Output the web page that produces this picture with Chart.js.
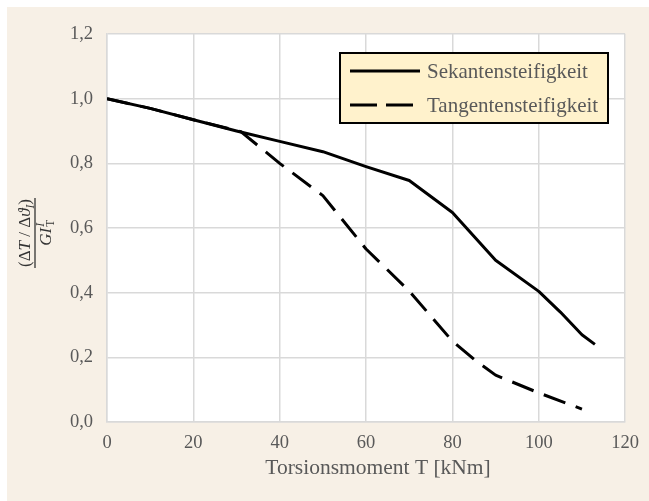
<!DOCTYPE html>
<html>
<head>
<meta charset="utf-8">
<script src="https://cdn.jsdelivr.net/npm/chart.js@4/dist/chart.umd.min.js"></script>
<style>
  html, body { margin: 0; padding: 0; background: #ffffff; }
  #wrap { width: 649px; height: 501px; position: relative; }
</style>
</head>
<body>
<div id="wrap"><canvas id="chart" width="649" height="501"></canvas></div>
<script>
// Torsion moment T [kNm] and relative stiffness, secant series
const sekanteT = [0, 10, 20, 30, 40, 50, 60, 70, 80, 90, 100, 105, 110, 113];
const sekanteK = [1.0, 0.97, 0.935, 0.9, 0.868, 0.836, 0.79, 0.747, 0.648, 0.5, 0.404, 0.34, 0.27, 0.24];

// Tangent series
const tangenteT = [0, 10, 20, 31, 40, 50, 60, 70, 80, 85, 90, 100, 110];
const tangenteK = [1.0, 0.97, 0.935, 0.898, 0.8, 0.7, 0.535, 0.405, 0.25, 0.194, 0.145, 0.09, 0.04];

const seriesNames = ['Sekantensteifigkeit', 'Tangentensteifigkeit'];
const xTickValues = [0, 20, 40, 60, 80, 100, 120];
const yTickValues = [0, 0.2, 0.4, 0.6, 0.8, 1.0, 1.2];
const xTitle = 'Torsionsmoment T [kNm]';

const SERIF = '"Liberation Serif", "DejaVu Serif", serif';
const GREY_TEXT = '#595959';
const GRID = '#D9D9D9';
const DASH = [23, 11];

function toPoints(xs, ys) {
  return xs.map((x, i) => ({ x: x, y: ys[i] }));
}

// Beige frame and white plot area
const framePlugin = {
  id: 'frame',
  beforeDraw(chart) {
    const ctx = chart.ctx;
    const a = chart.chartArea;
    ctx.save();
    ctx.fillStyle = '#ffffff';
    ctx.fillRect(0, 0, chart.width, chart.height);
    ctx.fillStyle = '#F7F0E6';
    ctx.fillRect(7, 7, chart.width - 7, chart.height - 7);
    ctx.fillStyle = '#ffffff';
    ctx.fillRect(a.left, a.top, a.right - a.left, a.bottom - a.top);
    ctx.restore();
  }
};

// Axis titles: x title as text line, y title as a rotated fraction (ΔT / Δϑ_I) over G I_T^I
const titlePlugin = {
  id: 'axisTitles',
  afterDraw(chart) {
    const ctx = chart.ctx;
    ctx.save();
    ctx.fillStyle = GREY_TEXT;
    ctx.font = `21.5px ${SERIF}`;
    ctx.textAlign = 'center';
    ctx.textBaseline = 'middle';
    ctx.fillText(xTitle, 378, 468);
    ctx.restore();

    const size = 17;
    const small = 11.5;
    const cx = 35, cy = 233;
    const reg = (s) => `${s}px ${SERIF}`;
    const ita = (s) => `italic ${s}px ${SERIF}`;
    const num = [
      { t: '(', f: reg(size), dy: 0 },
      { t: 'Δ', f: reg(size), dy: 0 },
      { t: 'T', f: ita(size), dy: 0 },
      { t: ' / ', f: reg(size), dy: 0 },
      { t: 'Δ', f: reg(size), dy: 0 },
      { t: 'ϑ', f: ita(size), dy: 0 },
      { t: 'I', f: ita(small), dy: 4 },
      { t: ')', f: reg(size), dy: 0 }
    ];
    ctx.save();
    ctx.translate(cx, cy);
    ctx.rotate(-Math.PI / 2);
    ctx.fillStyle = '#333333';
    ctx.strokeStyle = '#333333';
    ctx.textBaseline = 'alphabetic';
    ctx.textAlign = 'left';
    let w = 0;
    num.forEach(p => { ctx.font = p.f; p.w = ctx.measureText(p.t).width; w += p.w; });
    let x = -w / 2;
    num.forEach(p => { ctx.font = p.f; ctx.fillText(p.t, x, -5 + p.dy); x += p.w; });
    // fraction bar
    ctx.lineWidth = 1.3;
    ctx.beginPath();
    ctx.moveTo(-w / 2 - 1, 0);
    ctx.lineTo(w / 2 + 1, 0);
    ctx.stroke();
    // denominator
    ctx.font = ita(size);
    const wG = ctx.measureText('G').width;
    const wI = ctx.measureText('I').width;
    ctx.font = ita(small);
    const wS = Math.max(ctx.measureText('I').width, ctx.measureText('T').width);
    const dw = wG + wI + 1 + wS;
    let dx = -dw / 2;
    const base = 16;
    ctx.font = ita(size);
    ctx.fillText('G', dx, base); dx += wG;
    ctx.fillText('I', dx, base); dx += wI + 1;
    ctx.font = ita(small);
    ctx.fillText('I', dx, base - 7);
    ctx.font = reg(small);
    ctx.fillText('T', dx, base + 3);
    ctx.restore();
  }
};

// Legend box inside the plot area
const legendPlugin = {
  id: 'legendBox',
  afterDraw(chart) {
    const ctx = chart.ctx;
    const box = { x: 340, y: 53, w: 268, h: 70 };
    ctx.save();
    ctx.fillStyle = '#FFF2CC';
    ctx.fillRect(box.x, box.y, box.w, box.h);
    ctx.strokeStyle = '#000000';
    ctx.lineWidth = 2;
    ctx.strokeRect(box.x, box.y, box.w, box.h);
    const rows = [71, 105];
    chart.data.datasets.forEach((ds, i) => {
      const y = rows[i];
      ctx.strokeStyle = ds.borderColor;
      ctx.lineWidth = ds.borderWidth;
      ctx.lineCap = 'butt';
      ctx.setLineDash(ds.borderDash && ds.borderDash.length ? [27, 9] : []);
      ctx.beginPath();
      ctx.moveTo(350, y);
      ctx.lineTo(420, y);
      ctx.stroke();
      ctx.setLineDash([]);
      ctx.fillStyle = GREY_TEXT;
      ctx.font = `21px ${SERIF}`;
      ctx.textBaseline = 'middle';
      ctx.textAlign = 'left';
      ctx.fillText(ds.label, 427, y + 1);
    });
    ctx.restore();
  }
};

const chart = new Chart(document.getElementById('chart'), {
  type: 'line',
  data: {
    datasets: [
      {
        label: seriesNames[0],
        data: toPoints(sekanteT, sekanteK),
        borderColor: '#000000',
        borderWidth: 3,
        pointRadius: 0,
        tension: 0,
        fill: false,
        borderCapStyle: 'butt',
        borderJoinStyle: 'round'
      },
      {
        label: seriesNames[1],
        data: toPoints(tangenteT, tangenteK),
        borderColor: '#000000',
        borderWidth: 3,
        borderDash: DASH,
        pointRadius: 0,
        tension: 0,
        fill: false,
        borderCapStyle: 'butt',
        borderJoinStyle: 'round'
      }
    ]
  },
  options: {
    responsive: false,
    devicePixelRatio: 1,
    animation: false,
    layout: { padding: { top: 34, right: 23, left: 0, bottom: 0 } },
    plugins: {
      legend: { display: false },
      tooltip: { enabled: false }
    },
    scales: {
      x: {
        type: 'linear',
        min: 0,
        max: 120,
        afterBuildTicks(scale) { scale.ticks = xTickValues.map(v => ({ value: v })); },
        afterFit(scale) { scale.height = 79; },
        grid: { color: GRID, lineWidth: 1.5, drawTicks: false },
        border: { display: true, color: GRID, width: 1.5 },
        ticks: {
          padding: 10,
          color: GREY_TEXT,
          font: { family: SERIF, size: 18.5 },
          maxRotation: 0,
          callback: v => String(v)
        }
      },
      y: {
        min: 0,
        max: 1.2,
        afterBuildTicks(scale) { scale.ticks = yTickValues.map(v => ({ value: v })); },
        afterFit(scale) { scale.width = 107; },
        grid: { color: GRID, lineWidth: 1.5, drawTicks: false },
        border: { display: true, color: GRID, width: 1.5 },
        ticks: {
          padding: 14,
          color: GREY_TEXT,
          font: { family: SERIF, size: 18.5 },
          callback: v => Number(v).toFixed(1).replace('.', ',')
        }
      }
    }
  },
  plugins: [framePlugin, titlePlugin, legendPlugin]
});
</script>
</body>
</html>
